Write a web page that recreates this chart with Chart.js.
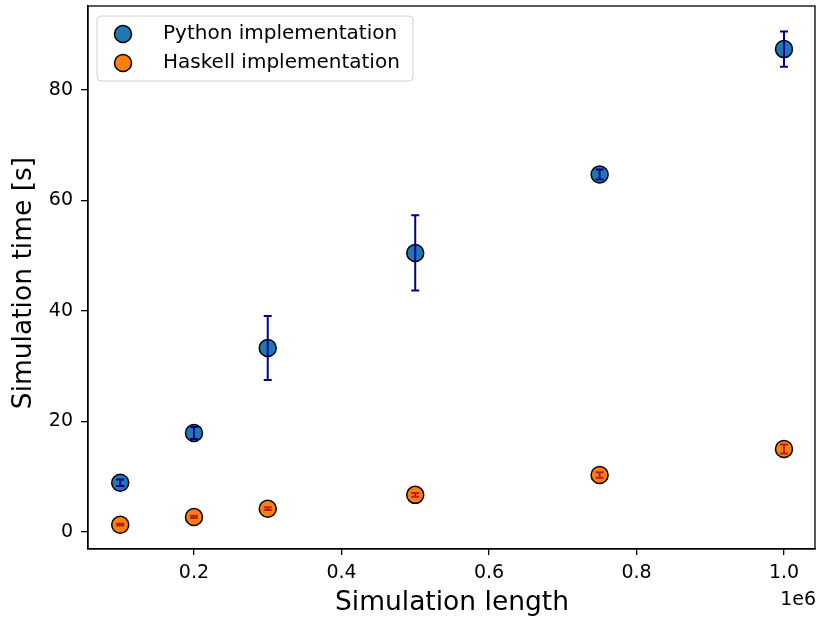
<!DOCTYPE html>
<html>
<head>
<meta charset="utf-8">
<script src="https://cdn.jsdelivr.net/npm/chart.js@4/dist/chart.umd.min.js"></script>
<style>
  html, body { margin: 0; padding: 0; background: #fff; }
  #wrap { width: 816px; height: 619px; }
</style>
</head>
<body>
<div id="wrap"><canvas id="simChart" width="816" height="619"></canvas></div>
<script>
// simulation lengths (x, in units of 1e6)
var lengths = [0.1, 0.2, 0.3, 0.5, 0.75, 1.0];
var pythonTime = [8.9, 17.9, 33.3, 50.5, 64.7, 87.4];
var pythonErr = [0.6, 1.1, 5.8, 6.8, 0.9, 3.2];
var haskellTime = [1.3, 2.7, 4.2, 6.7, 10.3, 15.0];
var haskellErr = [0.15, 0.2, 0.25, 0.35, 0.5, 0.8];
var xTicks = [0.2, 0.4, 0.6, 0.8, 1.0];
var yTicks = [0, 20, 40, 60, 80];
var seriesNames = ['Python implementation', 'Haskell implementation'];

var FONT = '"DejaVu Sans", sans-serif';

function toPoints(xs, ys, errs) {
    return xs.map(function (x, i) { return {x: x, y: ys[i], err: errs[i]}; });
}

// error bars drawn on top of the markers, like matplotlib errorbar
var errorBars = {
    id: 'errorBars',
    afterDatasetsDraw: function (chart) {
        var ctx = chart.ctx;
        var xs = chart.scales.x, ys = chart.scales.y;
        chart.data.datasets.forEach(function (ds) {
            ctx.save();
            ctx.strokeStyle = ds.errColor;
            ctx.lineWidth = 2;
            ds.data.forEach(function (p) {
                var px = xs.getPixelForValue(p.x);
                var top = ys.getPixelForValue(p.y + p.err);
                var bot = ys.getPixelForValue(p.y - p.err);
                ctx.beginPath();
                ctx.moveTo(px, top); ctx.lineTo(px, bot);
                ctx.moveTo(px - 4, top); ctx.lineTo(px + 4, top);
                ctx.moveTo(px - 4, bot); ctx.lineTo(px + 4, bot);
                ctx.stroke();
            });
            ctx.restore();
        });
    }
};

// frame, legend, axis titles and offset text
var decorations = {
    id: 'decorations',
    afterDraw: function (chart) {
        var ctx = chart.ctx;
        var a = chart.chartArea;
        ctx.save();
        ctx.strokeStyle = '#000';
        ctx.lineWidth = 1.3;
        ctx.strokeRect(a.left, a.top, a.right - a.left - 1, a.bottom - a.top);

        // legend
        var lx = 97, ly = 16, lw = 316, lh = 65, r = 4;
        ctx.beginPath();
        ctx.moveTo(lx + r, ly);
        ctx.arcTo(lx + lw, ly, lx + lw, ly + lh, r);
        ctx.arcTo(lx + lw, ly + lh, lx, ly + lh, r);
        ctx.arcTo(lx, ly + lh, lx, ly, r);
        ctx.arcTo(lx, ly, lx + lw, ly, r);
        ctx.closePath();
        ctx.fillStyle = 'rgba(255,255,255,0.8)';
        ctx.fill();
        ctx.strokeStyle = '#d0d0d0';
        ctx.lineWidth = 1;
        ctx.stroke();
        chart.data.datasets.forEach(function (ds, i) {
            var cy = 34 + i * 29;
            ctx.beginPath();
            ctx.arc(123, cy, 8.5, 0, Math.PI * 2);
            ctx.fillStyle = ds.backgroundColor;
            ctx.fill();
            ctx.strokeStyle = '#000';
            ctx.lineWidth = 1.5;
            ctx.stroke();
            ctx.fillStyle = '#000';
            ctx.font = '20px ' + FONT;
            ctx.textBaseline = 'middle';
            ctx.textAlign = 'left';
            ctx.fillText(ds.label, 163, cy);
        });

        // axis titles
        ctx.fillStyle = '#000';
        ctx.font = '26.5px ' + FONT;
        ctx.textAlign = 'center';
        ctx.textBaseline = 'middle';
        ctx.fillText('Simulation length', 452, 603);
        ctx.save();
        ctx.translate(24, 283);
        ctx.rotate(-Math.PI / 2);
        ctx.fillText('Simulation time [s]', 0, 0);
        ctx.restore();

        ctx.font = '19px ' + FONT;
        ctx.textAlign = 'right';
        ctx.fillText('1e6', 816, 600);
        ctx.restore();
    }
};

function noPadding(scale) {
    scale.paddingTop = 0;
    scale.paddingBottom = 0;
    scale.paddingLeft = 0;
    scale.paddingRight = 0;
}

var ctx = document.getElementById('simChart');
var chart = new Chart(ctx, {
    type: 'scatter',
    data: {
        datasets: [{
            label: seriesNames[0],
            data: toPoints(lengths, pythonTime, pythonErr),
            backgroundColor: '#1f77b4',
            borderColor: '#000',
            borderWidth: 1.5,
            pointRadius: 8.5,
            errColor: '#00008b'
        }, {
            label: seriesNames[1],
            data: toPoints(lengths, haskellTime, haskellErr),
            backgroundColor: '#ff7f0e',
            borderColor: '#000',
            borderWidth: 1.5,
            pointRadius: 8.5,
            errColor: '#b22222'
        }]
    },
    options: {
        responsive: false,
        animation: false,
        layout: { autoPadding: false, padding: { top: 6, right: 0, left: 0, bottom: 0 } },
        plugins: { legend: { display: false }, tooltip: { enabled: false } },
        scales: {
            x: {
                type: 'linear',
                min: 0.0563,
                max: 1.0434,
                afterBuildTicks: function (scale) {
                    scale.ticks = xTicks.map(function (v) { return {value: v}; });
                },
                afterFit: function (scale) { scale.height = 70; noPadding(scale); },
                ticks: {
                    color: '#000',
                    font: { family: FONT, size: 19 },
                    padding: 7,
                    maxRotation: 0,
                    autoSkip: false,
                    callback: function (v) { return v.toFixed(1); }
                },
                grid: { drawOnChartArea: false, drawTicks: true, tickLength: 6, color: '#000', lineWidth: 1.3 },
                border: { display: true, color: '#000', width: 1.3 }
            },
            y: {
                type: 'linear',
                min: -3.1,
                max: 95.2,
                afterBuildTicks: function (scale) {
                    scale.ticks = yTicks.map(function (v) { return {value: v}; });
                },
                afterFit: function (scale) { scale.width = 88; noPadding(scale); },
                ticks: {
                    color: '#000',
                    font: { family: FONT, size: 19 },
                    padding: 8,
                    autoSkip: false
                },
                grid: { drawOnChartArea: false, drawTicks: true, tickLength: 7, color: '#000', lineWidth: 1.3 },
                border: { display: true, color: '#000', width: 1.3 }
            }
        }
    },
    plugins: [errorBars, decorations]
});
</script>
</body>
</html>
